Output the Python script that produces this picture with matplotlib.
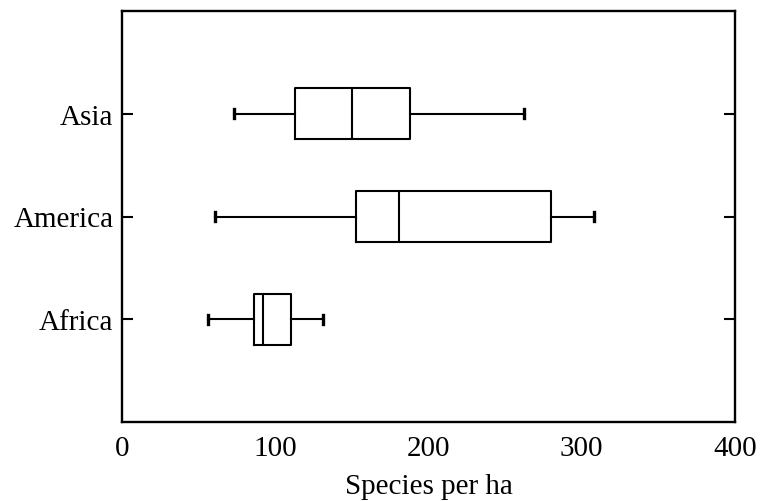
import matplotlib
matplotlib.use("Agg")
import matplotlib.pyplot as plt

# Box statistics (species per ha)
regions = ["Africa", "America", "Asia"]
whisker_low = [56, 61, 73]
q1 = [86, 153, 113]
median = [92, 181, 150]
q3 = [110, 280, 188]
whisker_high = [131, 308, 262]

x_ticks = [0, 100, 200, 300, 400]

plt.rcParams['font.family'] = ['Liberation Serif', 'DejaVu Serif']

fig, ax = plt.subplots(figsize=(7.61, 5.02), dpi=100)
fig.subplots_adjust(left=122 / 761, right=735 / 761, top=1 - 12 / 502, bottom=1 - 423 / 502)

stats = []
for i, name in enumerate(regions):
    stats.append({
        "label": name,
        "whislo": whisker_low[i],
        "q1": q1[i],
        "med": median[i],
        "q3": q3[i],
        "whishi": whisker_high[i],
        "fliers": [],
    })

lw = 1.5
ax.bxp(stats, positions=[1, 2, 3], widths=0.5, vert=False, showfliers=False,
       capwidths=0.09,
       boxprops=dict(color="black", linewidth=lw),
       medianprops=dict(color="black", linewidth=lw),
       whiskerprops=dict(color="black", linewidth=lw),
       capprops=dict(color="black", linewidth=2.4))

ax.set_xlim(0, 400)
ax.set_ylim(0, 4)
ax.set_xticks(x_ticks)
ax.set_yticks([1, 2, 3])
ax.set_yticklabels(regions)

ax.tick_params(axis="both", direction="in", top=True, right=True,
               length=8, width=1.5, labelsize=21)
ax.tick_params(axis="x", pad=9)
ax.tick_params(axis="y", pad=6)
for t in ax.xaxis.get_major_ticks():
    if t.get_loc() in (0, 400):
        t.tick1line.set_visible(False)
        t.tick2line.set_visible(False)

for s in ax.spines.values():
    s.set_linewidth(1.7)

ax.set_xlabel("Species per ha", fontsize=21, labelpad=9)

fig.savefig("out.png", dpi=100)
plt.close(fig)
